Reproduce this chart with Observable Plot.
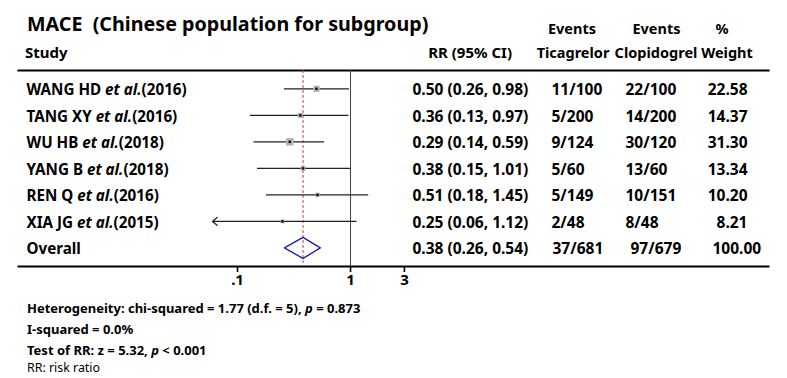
<!DOCTYPE html>
<html><head><meta charset="utf-8">
<script src="https://cdn.jsdelivr.net/npm/d3@7"></script>
<script src="https://cdn.jsdelivr.net/npm/@observablehq/plot@0.6"></script>
<style>
body{margin:0;background:#fff;}
#chart svg{display:block;}
</style></head><body><div id="chart"></div>
<script>
// ---- data ----
const authors = ["WANG HD","TANG XY","WU HB","YANG B","REN Q","XIA JG"];
const years = [2016,2016,2018,2018,2016,2015];
const rr = [0.50,0.36,0.29,0.38,0.51,0.25];
const lo = [0.26,0.13,0.14,0.15,0.18,0.06];
const hi = [0.98,0.97,0.59,1.01,1.45,1.12];
const ticEvents = ["11/100","5/200","9/124","5/60","5/149","2/48"];
const clopEvents = ["22/100","14/200","30/120","13/60","10/151","8/48"];
const weights = [22.58,14.37,31.30,13.34,10.20,8.21];
const overallLabel = "Overall";
const overallRR = [0.38, 0.26, 0.54];
const overallTic = "37/681";
const overallClop = "97/679";
const overallWeight = 100.00;
const tickValues = [0.1,1,3];
const tickLabels = [".1","1","3"];
const stats = {chi2:"1.77", df:"5", p:"0.873", i2:"0.0%", z:"5.32", pTest:"< 0.001"};

// ---- table ----
const fmt = d => d.toFixed(2);
const studies = authors.map((a,i)=>({
  i, label:`${a} et al.(${years[i]})`,
  rr:rr[i], lo:lo[i], hi:hi[i], tic:ticEvents[i], clop:clopEvents[i], w:weights[i],
  ci:`${fmt(rr[i])} (${fmt(lo[i])}, ${fmt(hi[i])})`, wt:fmt(weights[i])
}));
const ov = {i:studies.length, label:overallLabel, rr:overallRR[0], lo:overallRR[1], hi:overallRR[2],
  tic:overallTic, clop:overallClop, wt:fmt(overallWeight),
  ci:`${fmt(overallRR[0])} (${fmt(overallRR[1])}, ${fmt(overallRR[2])})`};
const rows = [...studies, ov];
const ticks = tickValues.map((v,k)=>({v, label:tickLabels[k]}));

const rowTop = 88.3, rowBottom = 247.4;
const rowStep = (rowBottom-rowTop)/studies.length;
const H = 10.5/rowStep; // diamond half-height in row units
const diamond = [
  {x:ov.lo,y:ov.i},{x:ov.rr,y:ov.i-H},{x:ov.hi,y:ov.i},{x:ov.rr,y:ov.i+H},{x:ov.lo,y:ov.i}
];
const font = "'Noto Sans', sans-serif";
const lab = {fontSize:15.2, fontWeight:"bold", dy:1.5, fill:"#000"};
const val = {fontSize:15.5, fontWeight:"bold", dy:1.5, fill:"#000"};

const plot = Plot.plot({
  width:787, height:378,
  marginTop:70, marginBottom:112, marginLeft:18, marginRight:19,
  style:{fontFamily:font, color:"#000", background:"#fff", overflow:"visible"},
  x:{type:"log", domain:[0.05,5], range:[203,429], axis:null},
  y:{domain:[0,studies.length], range:[rowTop,rowBottom], axis:null},
  r:{range:[0,4.2]},
  marks:[
    Plot.frame({anchor:"top", stroke:"#000", strokeWidth:2.2}),
    Plot.frame({anchor:"bottom", stroke:"#000", strokeWidth:2}),
    Plot.ruleX([1], {stroke:"#444", strokeWidth:1}),
    Plot.ruleX([ov.rr], {stroke:"#c2405a", strokeWidth:1, strokeDasharray:"3,2"}),
    Plot.ruleY(studies.filter(d=>d.lo>=tickValues[0]), {y:"i", x1:"lo", x2:"hi", stroke:"#222", strokeWidth:1.3}),
    Plot.arrow(studies.filter(d=>d.lo<tickValues[0]), {x1:"hi", y1:"i", x2:"lo", y2:"i", bend:0, headLength:7, headAngle:80, stroke:"#222", strokeWidth:1.3}),
    Plot.dot(studies, {x:"rr", y:"i", r:"w", symbol:"square", fill:"#b4b4b4"}),
    Plot.dot(studies, {x:"rr", y:"i", r:1.4, symbol:"square", fill:"#111"}),
    Plot.line(diamond, {x:"x", y:"y", stroke:"#1f1f8c", strokeWidth:1.3, curve:"linear"}),
    // x axis: ticks below the bottom rule, and their labels
    Plot.tickX(ticks, {x:"v", stroke:"#000", strokeWidth:1.6, insetTop:196, insetBottom:-6}),
    Plot.text(ticks, {x:"v", text:"label", frameAnchor:"bottom", dy:18, fontSize:15, fontWeight:"bold", fill:"#000"}),
    Plot.text(rows, {y:"i", text:"label", frameAnchor:"left", dx:8, textAnchor:"start", className:"study-label", ...lab}),
    Plot.text(rows, {y:"i", text:"ci", frameAnchor:"left", dx:394, textAnchor:"start", ...val}),
    Plot.text(studies, {y:"i", text:"tic", frameAnchor:"left", dx:533, textAnchor:"start", ...val}),
    Plot.text([ov], {y:"i", text:"tic", frameAnchor:"left", dx:534, textAnchor:"start", ...val}),
    Plot.text(studies, {y:"i", text:"clop", frameAnchor:"left", dx:607, textAnchor:"start", ...val}),
    Plot.text([ov], {y:"i", text:"clop", frameAnchor:"left", dx:612, textAnchor:"start", ...val}),
    Plot.text(studies, {y:"i", text:"wt", frameAnchor:"right", dx:-21, textAnchor:"end", ...val}),
    Plot.text([ov], {y:"i", text:"wt", frameAnchor:"left", dx:694, textAnchor:"start", ...val})
  ]
});
document.getElementById("chart").appendChild(plot);

const svg = d3.select(plot);
// italic "et al."
svg.selectAll(".study-label text").each(function(){
  const s = this.textContent;
  const k = s.indexOf("et al.");
  if (k < 0) return;
  const t = d3.select(this); t.text(null);
  t.append("tspan").text(s.slice(0,k));
  t.append("tspan").attr("font-style","italic").text("et al.");
  t.append("tspan").text(s.slice(k+6));
});

function addText(x, y, parts, opts={}){
  const t = svg.append("text").attr("x",x).attr("y",y)
    .attr("font-family",font).attr("font-size",opts.size||14.5)
    .attr("font-weight",opts.weight||"bold").attr("text-anchor",opts.anchor||"start")
    .attr("fill","#000").style("white-space","pre");
  (Array.isArray(parts)?parts:[parts]).forEach(p=>{
    if (typeof p === "string") t.append("tspan").text(p);
    else t.append("tspan").attr("font-style","italic").text(p.i);
  });
}
addText(27, 31, "MACE  (Chinese population for subgroup)", {size:19.7});
addText(25, 58, "Study", {size:15});
addText(512, 58, "RR (95% CI)", {anchor:"end", size:15});
addText(572, 34, "Events", {anchor:"middle"});
addText(573, 58, "Ticagrelor", {anchor:"middle"});
addText(656.5, 34, "Events", {anchor:"middle"});
addText(656, 58, "Clopidogrel", {anchor:"middle"});
addText(722, 34, "%", {anchor:"middle"});
addText(727, 58, "Weight", {anchor:"middle"});
addText(27, 312.5, [`Heterogeneity: chi-squared = ${stats.chi2} (d.f. = ${stats.df}), `, {i:"p"}, ` = ${stats.p}`], {size:13});
addText(27, 334, `I-squared = ${stats.i2}`, {size:13});
addText(27, 355, [`Test of RR: z = ${stats.z}, `, {i:"p"}, ` ${stats.pTest}`], {size:13});
addText(27, 372, "RR: risk ratio", {size:12.4, weight:"normal"});
</script></body></html>
